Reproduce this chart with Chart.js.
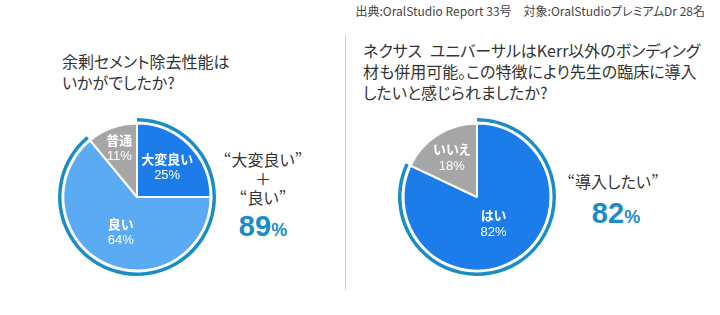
<!DOCTYPE html>
<html lang="ja">
<head>
<meta charset="utf-8">
<script src="https://cdn.jsdelivr.net/npm/chart.js@4/dist/chart.umd.min.js"></script>
<style>
  body { margin:0; width:720px; height:315px; background:#fff; position:relative; overflow:hidden;
         font-family:"Noto Sans CJK JP","Noto Sans",sans-serif; color:#333; font-feature-settings:"palt"; }
  .abs { position:absolute; }
  #source { right:15px; top:2px; font-size:12px; color:#444; white-space:nowrap; }
  .title { font-size:16px; line-height:21px; color:#333; white-space:nowrap; }
  #divider { left:345px; top:35px; width:1px; height:255px; background:#ccc; }
  .note { text-align:center; font-size:16px; line-height:19px; color:#333; white-space:nowrap; transform:translateX(-50%); }
  .big { text-align:center; color:#1a8cc6; font-weight:bold; font-size:29px; line-height:30px;
         font-family:"Liberation Sans",Arial,sans-serif; transform:translateX(-50%); white-space:nowrap; }
  .big small { font-size:18px; }
  canvas { position:absolute; }
</style>
</head>
<body>
<div id="source" class="abs">出典:OralStudio Report 33号　対象:OralStudioプレミアムDr 28名</div>

<div class="abs title" style="left:62px;top:51px;">余剰セメント除去性能は<br>いかがでしたか?</div>
<div id="divider" class="abs"></div>
<div class="abs title" style="left:363px;top:40px;">ネクサス&ensp;ユニバーサルはKerr以外のボンディング<br>材も併用可能。この特徴により先生の臨床に導入<br>したいと感じられましたか?</div>

<div class="abs note" style="left:263px;top:150px;">“大変良い”<br>＋<br>“良い”</div>
<div class="abs big" style="left:263px;top:211px;">89<small>%</small></div>

<div class="abs note" style="left:613px;top:172px;">“導入したい”</div>
<div class="abs big" style="left:616px;top:198px;">82<small>%</small></div>

<div style="position:absolute;left:47px;top:107px;width:180px;height:180px;"><canvas id="leftChart" width="180" height="180"></canvas></div>
<div style="position:absolute;left:387px;top:107px;width:180px;height:180px;"><canvas id="rightChart" width="180" height="180"></canvas></div>

<script>
// データ
const leftLabels = ['大変良い', '良い', '普通'];
const leftValues = [25, 64, 11];
const leftColors = ['#1c7ce9', '#5aaaf4', '#a6a6a6'];

const rightLabels = ['はい', 'いいえ'];
const rightValues = [82, 18];
const rightColors = ['#1c7ce9', '#a6a6a6'];

const ringColor = '#1a8dc6';

// スライス内ラベル
const sliceLabels = {
  id: 'sliceLabels',
  afterDatasetsDraw(chart, args, opts) {
    const ctx = chart.ctx;
    const meta = chart.getDatasetMeta(2);
    const labels = chart.data.labels;
    const values = chart.data.datasets[2].data;
    ctx.save();
    ctx.fillStyle = '#fff';
    ctx.textAlign = 'center';
    ctx.textBaseline = 'middle';
    meta.data.forEach((arc, i) => {
      const p = arc.getProps(['x','y','startAngle','endAngle','outerRadius'], true);
      const mid = (p.startAngle + p.endAngle) / 2;
      const r = p.outerRadius * opts.dist[i];
      const x = p.x + Math.cos(mid) * r;
      const y = p.y + Math.sin(mid) * r;
      ctx.font = 'bold 13px "Noto Sans CJK JP", sans-serif';
      ctx.fillText(labels[i], x, y - 8);
      ctx.font = '13px "Liberation Sans", Arial, sans-serif';
      ctx.fillText(values[i] + '%', x, y + 9);
    });
    ctx.restore();
  }
};

function makePie(id, labels, values, colors, ringCount, dist) {
  const ringTotal = values.slice(0, ringCount).reduce((a, b) => a + b, 0);
  const rest = values.reduce((a, b) => a + b, 0) - ringTotal;
  return new Chart(document.getElementById(id), {
    type: 'pie',
    data: {
      labels,
      datasets: [
        { data: [ringTotal, rest], backgroundColor: [ringColor, 'rgba(0,0,0,0)'], borderWidth: 0, weight: 3.5 },
        { data: [100], backgroundColor: ['rgba(0,0,0,0)'], borderWidth: 0, weight: 2 },
        { data: values, backgroundColor: colors, borderColor: '#fff', borderWidth: 2, weight: 73.5 }
      ]
    },
    options: {
      responsive: false,
      animation: false,
      radius: 79,
      hoverOffset: 0,
      layout: { padding: 0 },
      plugins: { legend: { display: false }, tooltip: { enabled: false }, sliceLabels: { dist } },
      events: []
    },
    plugins: [sliceLabels]
  });
}

makePie('leftChart', leftLabels, leftValues, leftColors, 2, [0.58, 0.52, 0.71]);
makePie('rightChart', rightLabels, rightValues, rightColors, 1, [0.42, 0.64]);
</script>
</body>
</html>
